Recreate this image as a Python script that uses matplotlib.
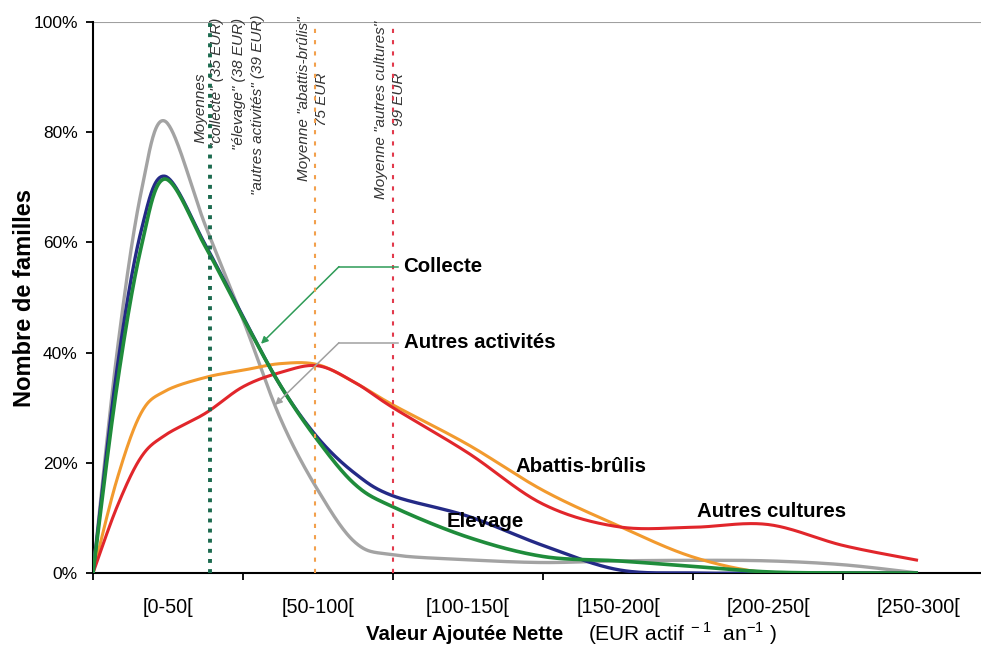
import numpy as np
import matplotlib
matplotlib.use("Agg")
import matplotlib.pyplot as plt

plt.rcParams["font.family"] = ["Liberation Sans", "DejaVu Sans"]

# valeurs (% des familles) selon la VAN (EUR)
x_pts = [0, 8, 16, 24, 37.5, 50, 62.5, 75, 87.5, 100, 125, 150, 175, 200, 225, 250, 275]
autres_activites = [0, 40, 69, 82, 63, 46, 28, 15, 5.5, 3.3, 2.4, 1.9, 2.2, 2.3, 2.2, 1.5, 0]
collecte = [0, 34, 59, 71.5, 59.2, 46.3, 34, 24, 16, 12, 6.5, 3, 2.2, 1.2, 0.2, 0, 0]
elevage = [0, 37, 62, 72, 59.5, 46.5, 34, 24.5, 18, 14, 10.3, 5, 0.6, 0, 0, 0, 0]
abattis = [0, 17, 29, 33, 35.5, 36.8, 38, 37.8, 34.5, 30.5, 23.3, 15, 8.6, 2.9, 0, 0, 0]
autres_cultures = [0, 12, 21, 25, 29, 33.8, 36.4, 37.6, 34.5, 30, 21.8, 12.5, 8.4, 8.3, 8.8, 5, 2.3]

class_edges = [0, 50, 100, 150, 200, 250]
class_labels = ["[0-50[", "[50-100[", "[100-150[", "[150-200[", "[200-250[", "[250-300["]
mean_pos = [39, 74, 100]


def smooth(xs, ys, n=40):
    # lissage type Excel (Bezier / Catmull-Rom)
    pts = np.column_stack([xs, ys]).astype(float)
    P = np.vstack([pts[0], pts, pts[-1]])
    t = np.linspace(0, 1, n)[:, None]
    out = []
    for i in range(1, len(P) - 2):
        p0, p1, p2, p3 = P[i - 1], P[i], P[i + 1], P[i + 2]
        b1 = p1 + (p2 - p0) / 6
        b2 = p2 - (p3 - p1) / 6
        out.append((1 - t)**3 * p1 + 3 * (1 - t)**2 * t * b1
                   + 3 * (1 - t) * t**2 * b2 + t**3 * p2)
    out = np.vstack(out)
    return out[:, 0], out[:, 1]


W, H = 981, 647
fig = plt.figure(figsize=(W / 100, H / 100), dpi=100)
ax = fig.add_axes([93 / W, 1 - 573 / H, (W - 93) / W, (573 - 22) / H])

series = [(autres_activites, "#a3a3a3", 2.4),
          (abattis, "#f29a2e", 2.2),
          (autres_cultures, "#e1262b", 2.2),
          (elevage, "#242a86", 2.4),
          (collecte, "#1f8c3b", 2.6)]
for ys, col, lw in series:
    sx, sy = smooth(x_pts, ys)
    ax.plot(sx, sy, color=col, lw=lw, zorder=3, solid_capstyle="butt")

ax.axvline(mean_pos[0], color="#1b6a4e", lw=2.8, ls=(0, (1, 1.6)), zorder=4)
ax.axvline(mean_pos[1], color="#f2a04c", lw=1.5, ls=(0, (2, 3.4)), zorder=4)
ax.axvline(mean_pos[2], color="#e23a4c", lw=1.5, ls=(0, (2, 3.4)), zorder=4)
ax.axhline(100, color="#a0a0a0", lw=1.5, zorder=1)

ax.set_xlim(0, (W - 93) / 3)
ax.set_ylim(0, 100)
ax.set_yticks(range(0, 101, 20))
ax.set_yticklabels([f"{v}%" for v in range(0, 101, 20)], fontsize=12.5)
ax.set_xticks(class_edges)
ax.set_xticklabels([])
ax.set_xticks([e + 25 for e in class_edges], minor=True)
ax.set_xticklabels(class_labels, minor=True, fontsize=14.3)
ax.tick_params(axis="x", which="minor", length=0, pad=18)
ax.tick_params(axis="both", which="major", length=5, width=1.3, color="black")
ax.tick_params(axis="y", pad=6)
for s in ["top", "right"]:
    ax.spines[s].set_visible(False)
for s in ["left", "bottom"]:
    ax.spines[s].set_linewidth(1.5)

fig.text(25 / W, 1 - 298 / H, "Nombre de familles", rotation=90, ha="center",
         va="center", fontsize=17, fontweight="bold")
fig.text(465 / W, 1 - 635 / H, "Valeur Ajoutée Nette", ha="center", va="center",
         fontsize=14.7, fontweight="bold")
fig.text(588 / W, 1 - 634 / H,
         r"(EUR actif$^{\mathregular{\ -1}}$  an$^{\mathregular{-1}}$ )",
         ha="left", va="center", fontsize=15)

# etiquettes des courbes
lab = dict(fontsize=14.7, fontweight="bold", va="center", ha="left", zorder=5)
ax.text(103.5, 55.6, "Collecte", **lab)
ax.text(103.5, 41.8, "Autres activités", **lab)
ax.text(140.7, 19.3, "Abattis-brûlis", **lab)
ax.text(118, 9.3, "Elevage", **lab)
ax.text(201.3, 11.1, "Autres cultures", **lab)

ax.annotate("", xy=(56, 41.6), xytext=(82, 55.6),
            arrowprops=dict(arrowstyle="-|>", color="#2e9b57", lw=1.1,
                            mutation_scale=10, shrinkA=0, shrinkB=0))
ax.plot([82, 101.5], [55.6, 55.6], color="#2e9b57", lw=1.1, zorder=4)
ax.annotate("", xy=(60.7, 30.5), xytext=(82, 41.8),
            arrowprops=dict(arrowstyle="-|>", color="#a0a0a0", lw=1.1,
                            mutation_scale=10, shrinkA=0, shrinkB=0))
ax.plot([82, 101.5], [41.8, 41.8], color="#a0a0a0", lw=1.1, zorder=4)

# textes des moyennes (verticaux)
vt = dict(rotation=90, fontsize=11, style="italic", ha="center", va="center", color="#333333")
ax.text(36, 84.4, "Moyennes", **vt)
ax.text(41.5, 89, "\"collecte\" (35 EUR)", **vt)
ax.text(48.5, 88.7, "\"élevage\" (38 EUR)", **vt)
ax.text(55, 84.9, "\"autres activités\" (39 EUR)", **vt)
ax.text(70.2, 86, "Moyenne \"abattis-brûlis\"", **vt)
ax.text(76.3, 86, "75 EUR", **vt)
ax.text(96, 84, "Moyenne \"autres cultures\"", **vt)
ax.text(102, 86, "99 EUR", **vt)

fig.savefig("out.png", dpi=100)
